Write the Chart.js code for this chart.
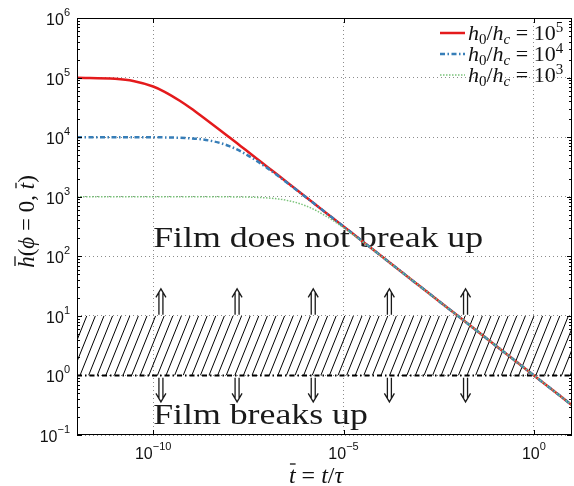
<!DOCTYPE html>
<html>
<head>
<meta charset="utf-8">
<script src="https://cdn.jsdelivr.net/npm/chart.js@4/dist/chart.umd.min.js"></script>
<style>
  html, body { margin: 0; padding: 0; background: #fff; }
  #wrap { width: 574px; height: 486px; }
</style>
</head>
<body>
<div id="wrap"><canvas id="filmChart" width="574" height="486"></canvas></div>
<script>
// --- data ---
const tVals = [1e-12, 1e-11, 3e-11, 1e-10, 2e-10, 5e-10, 1e-9, 2e-9, 5e-9, 1e-8, 2e-8, 5e-8,
               1e-7, 2e-7, 5e-7, 1e-6, 2e-6, 5e-6, 1e-5, 3e-5, 1e-4, 1e-3, 1e-2, 1e-1, 1, 10];
const h5Vals = [99500, 95300, 87700, 70700, 57700, 40800, 30200, 21800, 14000, 9950, 7050, 4470,
                3160, 2240, 1410, 1000, 707, 447, 316, 183, 100, 31.6, 10, 3.16, 1, 0.316];
const h4Vals = [10000, 10000, 9990, 9950, 9900, 9760, 9530, 9130, 8160, 7070, 5770, 4080,
                3020, 2180, 1400, 995, 705, 447, 316, 183, 100, 31.6, 10, 3.16, 1, 0.316];
const h3Vals = [1000, 1000, 1000, 1000, 1000, 1000, 1000, 999, 998, 995, 990, 976,
                953, 913, 816, 707, 577, 408, 302, 180, 99.5, 31.6, 10, 3.16, 1, 0.316];

const seriesExp = ['5', '4', '3'];           // legend: h0/hc = 10^exp
const xTickVals = [1e-10, 1e-5, 1];
const xTickExp = ['\u221210', '\u22125', '0'];
const yTickVals = [1e-1, 1, 10, 100, 1e3, 1e4, 1e5, 1e6];
const yTickExp = ['\u22121', '0', '1', '2', '3', '4', '5', '6'];

const bandLow = 1, bandHigh = 10;            // hatched region
const lineT = [1e-12, 10], lineH = [1, 1];   // dash-dot threshold
const arrowT = [1.6e-10, 1.6e-8, 1.6e-6, 1.6e-4, 1.6e-2];
const upArrow = [10.4, 28.4];                // tail, tip
const downArrow = [0.91, 0.36];

const RED = '#e41a1c', BLUE = '#377eb8', GREEN = '#7cc47c';
const SERIF = '"Liberation Serif", "DejaVu Serif", serif';
const SANS = '"Liberation Sans", Arial, sans-serif';

const pts = (xs, ys) => xs.map((x, i) => ({ x: x, y: ys[i] }));

// draw a run of text pieces: {t, font, dy, bar}
function richWidth(ctx, parts) {
    let w = 0;
    parts.forEach(p => { ctx.font = p.font; w += ctx.measureText(p.t).width + (p.pad || 0); });
    return w;
}
function drawRich(ctx, parts, x, y) {
    let cx = x;
    parts.forEach(p => {
        ctx.font = p.font;
        const w = ctx.measureText(p.t).width;
        ctx.fillText(p.t, cx, y + (p.dy || 0));
        if (p.bar) {
            ctx.save();
            ctx.lineWidth = 1.2;
            ctx.beginPath();
            ctx.moveTo(cx + w * 0.15, y - p.bar);
            ctx.lineTo(cx + w * 1.0, y - p.bar);
            ctx.stroke();
            ctx.restore();
        }
        cx += w + (p.pad || 0);
    });
    return cx;
}

function drawPow(ctx, exp, x, y, align) {
    const base = '16px ' + SANS, sup = '11px ' + SANS;
    const parts = [{ t: '10', font: base }, { t: exp, font: sup, dy: -9 }];
    const w = richWidth(ctx, parts);
    const sx = align === 'right' ? x - w : x - w / 2;
    drawRich(ctx, parts, sx, y);
}

function drawArrow(ctx, x, yTip, yTail) {
    const dir = yTail > yTip ? 1 : -1;
    ctx.beginPath();
    ctx.moveTo(x - 5, yTip + dir * 8.5);
    ctx.lineTo(x, yTip);
    ctx.lineTo(x + 5, yTip + dir * 8.5);
    ctx.moveTo(x - 2, yTip + dir * 3.4);
    ctx.lineTo(x - 2, yTail);
    ctx.moveTo(x + 2, yTip + dir * 3.4);
    ctx.lineTo(x + 2, yTail);
    ctx.stroke();
}

const overlay = {
    id: 'overlay',
    beforeDatasetsDraw(chart) {
        const { ctx, chartArea: a, scales: { x, y } } = chart;
        // 1. hatched band
        const yTop = y.getPixelForValue(bandHigh), yBot = y.getPixelForValue(bandLow);
        ctx.save();
        ctx.beginPath();
        ctx.rect(a.left, yTop, a.right - a.left, yBot - yTop);
        ctx.clip();
        ctx.strokeStyle = '#000';
        ctx.lineWidth = 1;
        ctx.beginPath();
        for (let xs = a.left - 40; xs < a.right + 10; xs += 8.6) {
            ctx.moveTo(xs, yBot);
            ctx.lineTo(xs + 24, yTop);
        }
        ctx.stroke();
        ctx.restore();

        // 2. arrows
        ctx.save();
        ctx.strokeStyle = '#1a1a1a';
        ctx.lineWidth = 1.3;
        arrowT.forEach(t => {
            const px = x.getPixelForValue(t);
            drawArrow(ctx, px, y.getPixelForValue(upArrow[1]), y.getPixelForValue(upArrow[0]));
            drawArrow(ctx, px, y.getPixelForValue(downArrow[1]), y.getPixelForValue(downArrow[0]));
        });
        ctx.restore();

        // 3. region labels
        ctx.save();
        ctx.fillStyle = '#1a1a1a';
        ctx.font = '30px ' + SERIF;
        const s1 = 'Film does not break up', s2 = 'Film breaks up';
        const k = 330 / ctx.measureText(s1).width;
        const lx = x.getPixelForValue(1e-10);
        [[s1, y.getPixelForValue(144)], [s2, y.getPixelForValue(0.155)]].forEach(([s, py]) => {
            ctx.save();
            ctx.translate(lx, py);
            ctx.scale(k, 1);
            ctx.fillText(s, 0, 0);
            ctx.restore();
        });
        ctx.restore();
    },
    afterDraw(chart) {
        const { ctx, chartArea: a, scales: { x, y } } = chart;
        ctx.save();
        ctx.strokeStyle = '#000';
        ctx.fillStyle = '#000';
        ctx.lineWidth = 1;

        // box
        ctx.strokeRect(a.left + 0.5, a.top + 0.5, a.right - a.left - 1, a.bottom - a.top - 1);

        // y ticks: major + minor, both sides, pointing in
        ctx.beginPath();
        for (let e = -1; e <= 6; e++) {
            const py = Math.round(y.getPixelForValue(Math.pow(10, e))) + 0.5;
            ctx.moveTo(a.left, py); ctx.lineTo(a.left + 5, py);
            ctx.moveTo(a.right, py); ctx.lineTo(a.right - 5, py);
            if (e === 6) continue;
            for (let m = 2; m <= 9; m++) {
                const my = Math.round(y.getPixelForValue(m * Math.pow(10, e))) + 0.5;
                ctx.moveTo(a.left, my); ctx.lineTo(a.left + 3, my);
                ctx.moveTo(a.right, my); ctx.lineTo(a.right - 3, my);
            }
        }
        xTickVals.forEach(v => {
            const px = Math.round(x.getPixelForValue(v)) + 0.5;
            ctx.moveTo(px, a.bottom); ctx.lineTo(px, a.bottom - 5);
            ctx.moveTo(px, a.top); ctx.lineTo(px, a.top + 5);
        });
        ctx.stroke();

        // tick labels
        ctx.fillStyle = '#111';
        yTickVals.forEach((v, i) => drawPow(ctx, yTickExp[i], 70, y.getPixelForValue(v) + 7, 'right'));
        xTickVals.forEach((v, i) => drawPow(ctx, xTickExp[i], x.getPixelForValue(v), a.bottom + 24, 'center'));

        // axis titles
        const it = s => 'italic ' + s + 'px ' + SERIF;
        const rm = s => s + 'px ' + SERIF;
        const xt = [
            { t: 't', font: it(24), bar: 19 },
            { t: ' = ', font: rm(24) },
            { t: 't', font: it(24) },
            { t: '/', font: rm(24) },
            { t: '\u03c4', font: it(24) }
        ];
        drawRich(ctx, xt, 316 - richWidth(ctx, xt) / 2, 483);

        const yt = [
            { t: 'h', font: it(23), bar: 19 },
            { t: '(', font: rm(23) },
            { t: '\u03d5', font: it(23) },
            { t: ' = 0, ', font: rm(23) },
            { t: 't', font: it(23), bar: 18 },
            { t: ')', font: rm(23) }
        ];
        ctx.save();
        ctx.translate(34, (a.top + a.bottom) / 2 - 5);
        ctx.rotate(-Math.PI / 2);
        drawRich(ctx, yt, -richWidth(ctx, yt) / 2, 0);
        ctx.restore();

        // legend
        const cols = [RED, BLUE, GREEN];
        const dashes = [[], [5, 2.5, 1.5, 2.5], [1.5, 1.5]];
        const widths = [2.5, 2.5, 1.5];
        seriesExp.forEach((exp, i) => {
            const ly = 33 + 21 * i;
            ctx.save();
            ctx.strokeStyle = cols[i];
            ctx.lineWidth = widths[i];
            ctx.setLineDash(dashes[i]);
            ctx.beginPath();
            ctx.moveTo(440, ly); ctx.lineTo(465, ly);
            ctx.stroke();
            ctx.restore();
            drawRich(ctx, [
                { t: 'h', font: it(22) },
                { t: '0', font: rm(15), dy: 4 },
                { t: '/', font: rm(22) },
                { t: 'h', font: it(22) },
                { t: 'c', font: it(15), dy: 4 },
                { t: ' = 10', font: rm(22) },
                { t: exp, font: rm(15), dy: -8 }
            ], 468, ly + 7);
        });
        ctx.restore();
    }
};

new Chart(document.getElementById('filmChart').getContext('2d'), {
    type: 'scatter',
    data: {
        datasets: [
            { data: pts(tVals, h3Vals), borderColor: GREEN, borderWidth: 1.5, borderDash: [1.5, 1.5], order: 1 },
            { data: pts(tVals, h4Vals), borderColor: BLUE, borderWidth: 2.5, borderDash: [5, 2.5, 1.5, 2.5], order: 2 },
            { data: pts(tVals, h5Vals), borderColor: RED, borderWidth: 2.5, order: 3 },
            { data: pts(lineT, lineH), borderColor: '#000', borderWidth: 2, borderDash: [5, 3, 1.5, 3], order: 4, cubicInterpolationMode: 'default', tension: 0 }
        ]
    },
    options: {
        responsive: false,
        animation: false,
        devicePixelRatio: 1,
        showLine: true,
        elements: {
            point: { radius: 0, hoverRadius: 0 },
            line: { cubicInterpolationMode: 'monotone', fill: false }
        },
        layout: { padding: { left: 77, top: 18, right: 2, bottom: 51 } },
        plugins: { legend: { display: false }, tooltip: { enabled: false } },
        scales: {
            x: {
                type: 'logarithmic', min: 1e-12, max: 10,
                afterBuildTicks: s => { s.ticks = xTickVals.map(v => ({ value: v })); },
                ticks: { display: false },
                grid: { color: '#8c8c8c', lineWidth: 1, drawTicks: false },
                border: { display: false, dash: [1, 3] }
            },
            y: {
                type: 'logarithmic', min: 0.1, max: 1e6,
                afterBuildTicks: s => { s.ticks = yTickVals.map(v => ({ value: v })); },
                ticks: { display: false },
                grid: { color: '#8c8c8c', lineWidth: 1, drawTicks: false },
                border: { display: false, dash: [1, 3] }
            }
        }
    },
    plugins: [overlay]
});
</script>
</body>
</html>
